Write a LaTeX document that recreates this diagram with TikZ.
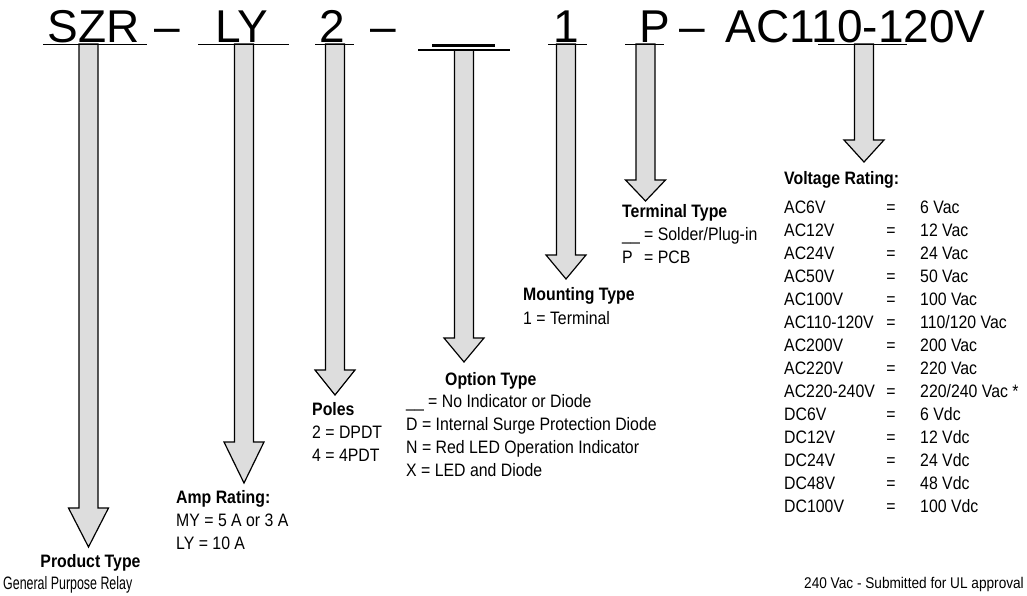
\documentclass[tikz,border=0pt]{standalone}
\usepackage{fontspec}
\usepackage{tikz}
\setmainfont{Liberation Sans}
\newfontfamily\narrowsf[FakeStretch=0.88]{Liberation Sans}
\newfontfamily\tightsf[FakeStretch=0.69]{Liberation Sans}
\definecolor{shaftgray}{RGB}{221,221,221}
% block arrow: centre x, top y, shoulder y, tip y
\newcommand{\partarrow}[4]{%
  \filldraw[fill=shaftgray,draw=black,line width=1.2pt,line join=miter]
    (#1-9.5,#2)--(#1-9.5,#3)--(#1-20,#3)--(#1,#4)--(#1+20,#3)--(#1+9.5,#3)--(#1+9.5,#2)--cycle;
}
\tikzset{
  partcode/.style={font=\fontsize{46}{54}\selectfont,inner sep=0pt,anchor=base},
  fieldhead/.style={font=\narrowsf\bfseries\fontsize{18}{23}\selectfont,inner sep=0pt,anchor=base west},
  fieldtext/.style={font=\narrowsf\fontsize{18}{23}\selectfont,inner sep=0pt,anchor=base west},
  codeline/.style={line width=1.3pt}
}

\begin{document}
\begin{tikzpicture}[x=1pt,y=-1pt]
    \useasboundingbox (0,0) rectangle (1027,596);

    \partarrow{88.5}{44}{508}{547}
    \partarrow{244}{44}{442}{483}
    \partarrow{335}{44}{370}{395}
    \partarrow{464}{50}{338}{362}
    \partarrow{566}{44}{255}{279}
    \partarrow{645.5}{44}{180}{201}
    \partarrow{864}{44}{140}{162}

    \node[partcode] (szr) at (93.5,42.5) {SZR};
    \node[partcode] (dasha) at (167,42.5) {–};
    \node[partcode] (ly) at (241.5,42.5) {LY};
    \node[partcode] (two) at (332,42.5) {2};
    \node[partcode] (dashb) at (383,42.5) {–};
    \node[partcode] (one) at (566,42.5) {1};
    \node[partcode] (pee) at (654.5,42.5) {P};
    \node[partcode] (dashc) at (692.5,42.5) {–};
    \node[partcode] (volt) at (855.5,42.5) {AC110-120V};

    \draw[line width=2.6pt] (432,45.5)--(495,45.5);
    \draw[codeline] (43,44.5)--(147,44.5);
    \draw[codeline] (198,44.5)--(289,44.5);
    \draw[codeline] (315,44.5)--(354,44.5);
    \draw[codeline] (418,50)--(510,50);
    \draw[codeline] (548,44.5)--(587,44.5);
    \draw[codeline] (625,44.5)--(664,44.5);
    \draw[codeline] (818,44.5)--(907,44.5);

    \node[fieldhead,anchor=base] (prodhead) at (90.5,567) {Product Type};
    \node[fieldtext,font=\tightsf\fontsize{18}{23}\selectfont] (prodtext) at (3,589) {General Purpose Relay};

    \node[fieldhead] (amphead) at (176,503) {Amp Rating:};
    \node[fieldtext] (amptext) at (176,526) {\begin{tabular}[t]{@{}l@{}}MY = 5 A or 3 A\\ LY = 10 A\end{tabular}};

    \node[fieldhead] (polehead) at (312,415) {Poles};
    \node[fieldtext] (poletext) at (312,438) {\begin{tabular}[t]{@{}l@{}}2 = DPDT\\ 4 = 4PDT\end{tabular}};

    \node[fieldhead] (opthead) at (445,385) {Option Type};
    \node[fieldtext] (opttext) at (406,407) {\begin{tabular}[t]{@{}l@{}}\_\_ = No Indicator or Diode\\ D = Internal Surge Protection Diode\\ N = Red LED Operation Indicator\\ X = LED and Diode\end{tabular}};

    \node[fieldhead] (mounthead) at (523,300) {Mounting Type};
    \node[fieldtext] (mounttext) at (523,324) {1 = Terminal};

    \node[fieldhead] (termhead) at (622,217) {Terminal Type};
    \node[fieldtext] (termtext) at (622,240) {\begin{tabular}[t]{@{}l@{\ }l@{}}\_\_ & = Solder/Plug-in\\ P & = PCB\end{tabular}};

    \node[fieldhead] (volthead) at (784,185) {Voltage Rating:};
    \foreach \code/\rating [count=\i from 0] in {AC6V/6 Vac,AC12V/12 Vac,AC24V/24 Vac,AC50V/50 Vac,
        AC100V/100 Vac,AC110-120V/{110/120 Vac},AC200V/200 Vac,AC220V/220 Vac,AC220-240V/{220/240 Vac *},
        DC6V/6 Vdc,DC12V/12 Vdc,DC24V/24 Vdc,DC48V/48 Vdc,DC100V/100 Vdc}{
      \node[fieldtext] (vcode\i) at (784,213+23*\i) {\code};
      \node[fieldtext,anchor=base] (veq\i) at (891,213+23*\i) {=};
      \node[fieldtext] (vval\i) at (920,213+23*\i) {\rating};
    }

    \node[fieldtext,font=\narrowsf\fontsize{15.5}{23}\selectfont,anchor=base east] (ulnote) at (1024,588) {240 Vac - Submitted for UL approval};
\end{tikzpicture}
\end{document}
